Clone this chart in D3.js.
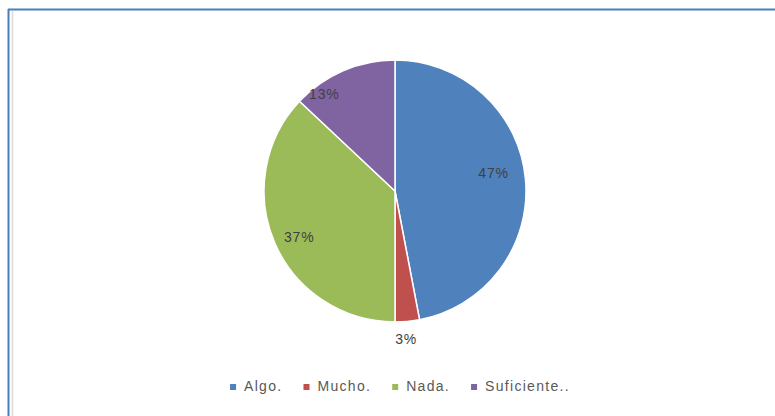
<!DOCTYPE html>
<html>
<head>
<meta charset="utf-8">
<script src="https://cdn.jsdelivr.net/npm/d3@7"></script>
<style>
  html, body { margin: 0; padding: 0; background: #fff; }
  svg { display: block; }
</style>
</head>
<body>
<svg id="chart" width="775" height="416"></svg>
<script>
// ---- data ----
const categories = ["Algo.", "Mucho.", "Nada.", "Suficiente.."];
const values = [47, 3, 37, 13];
const labels = ["47%", "3%", "37%", "13%"];
const colors = ["#4F81BD", "#C0504D", "#9BBB59", "#8064A2"];

// ---- layout ----
const W = 775, H = 416;
const cx = 395, cy = 191, R = 131;
const insideLabelR = 100, outsideLabelR = R + 20;
// small placement nudges imitating the spreadsheet's "best fit" labels
const labelNudge = [[-1, -9], [-3, -2], [-4, 6], [-31, -5]];

const svg = d3.select("#chart");

// frame
svg.append("rect").attr("x", 0).attr("y", 0).attr("width", W).attr("height", H).attr("fill", "#fff");
svg.append("line").attr("x1", 12.5).attr("x2", 12.5).attr("y1", 11).attr("y2", H)
  .attr("stroke", "#d9d9d9").attr("stroke-width", 1.5);
svg.append("line").attr("x1", 8.5).attr("x2", 8.5).attr("y1", 9).attr("y2", H)
  .attr("stroke", "#4A7EBB").attr("stroke-width", 2);
svg.append("line").attr("x1", 8).attr("x2", W).attr("y1", 9.5).attr("y2", 9.5)
  .attr("stroke", "#4A7EBB").attr("stroke-width", 2);

const pie = d3.pie().sort(null).value(d => d)(values);
const arc = d3.arc().innerRadius(0).outerRadius(R);
const g = svg.append("g").attr("transform", `translate(${cx},${cy})`);

g.selectAll("path.slice").data(pie).join("path")
  .attr("class", "slice")
  .attr("d", arc)
  .attr("fill", (d, i) => colors[i])
  .attr("stroke", "#fff")
  .attr("stroke-width", 1.5);

const inArc = d3.arc().innerRadius(insideLabelR).outerRadius(insideLabelR);
const outArc = d3.arc().innerRadius(outsideLabelR).outerRadius(outsideLabelR);

g.selectAll("text.lbl").data(pie).join("text")
  .attr("class", "lbl")
  .attr("transform", (d, i) => {
    const small = (d.endAngle - d.startAngle) < 0.3;
    const c = (small ? outArc : inArc).centroid(d);
    return `translate(${c[0] + labelNudge[i][0]},${c[1] + labelNudge[i][1]})`;
  })
  .attr("text-anchor", "middle")
  .attr("dy", "0.36em")
  .attr("font-family", "'Liberation Sans', Arial, sans-serif")
  .attr("font-size", 14)
  .attr("letter-spacing", "0.8px")
  .attr("fill", "#404040")
  .text((d, i) => labels[i]);

// legend
const legend = svg.append("g");
const items = legend.selectAll("g").data(categories).join("g");
items.append("rect").attr("width", 6).attr("height", 6).attr("y", -6)
  .attr("fill", (d, i) => colors[i]);
items.append("text").attr("x", 14).attr("y", 0)
  .attr("font-family", "'Liberation Sans', Arial, sans-serif")
  .attr("font-size", 14)
  .attr("letter-spacing", "1.3px")
  .attr("fill", "#595959")
  .text(d => d);

let x = 0;
const offsets = [];
items.each(function () {
  offsets.push(x);
  const tw = d3.select(this).select("text").node().getComputedTextLength();
  x += 14 + tw + 21;
});
const totalW = x - 21;
const startX = 400 - totalW / 2;
items.attr("transform", (d, i) => `translate(${startX + offsets[i]},390)`);
items.select("text").attr("y", 1);
</script>
</body>
</html>
